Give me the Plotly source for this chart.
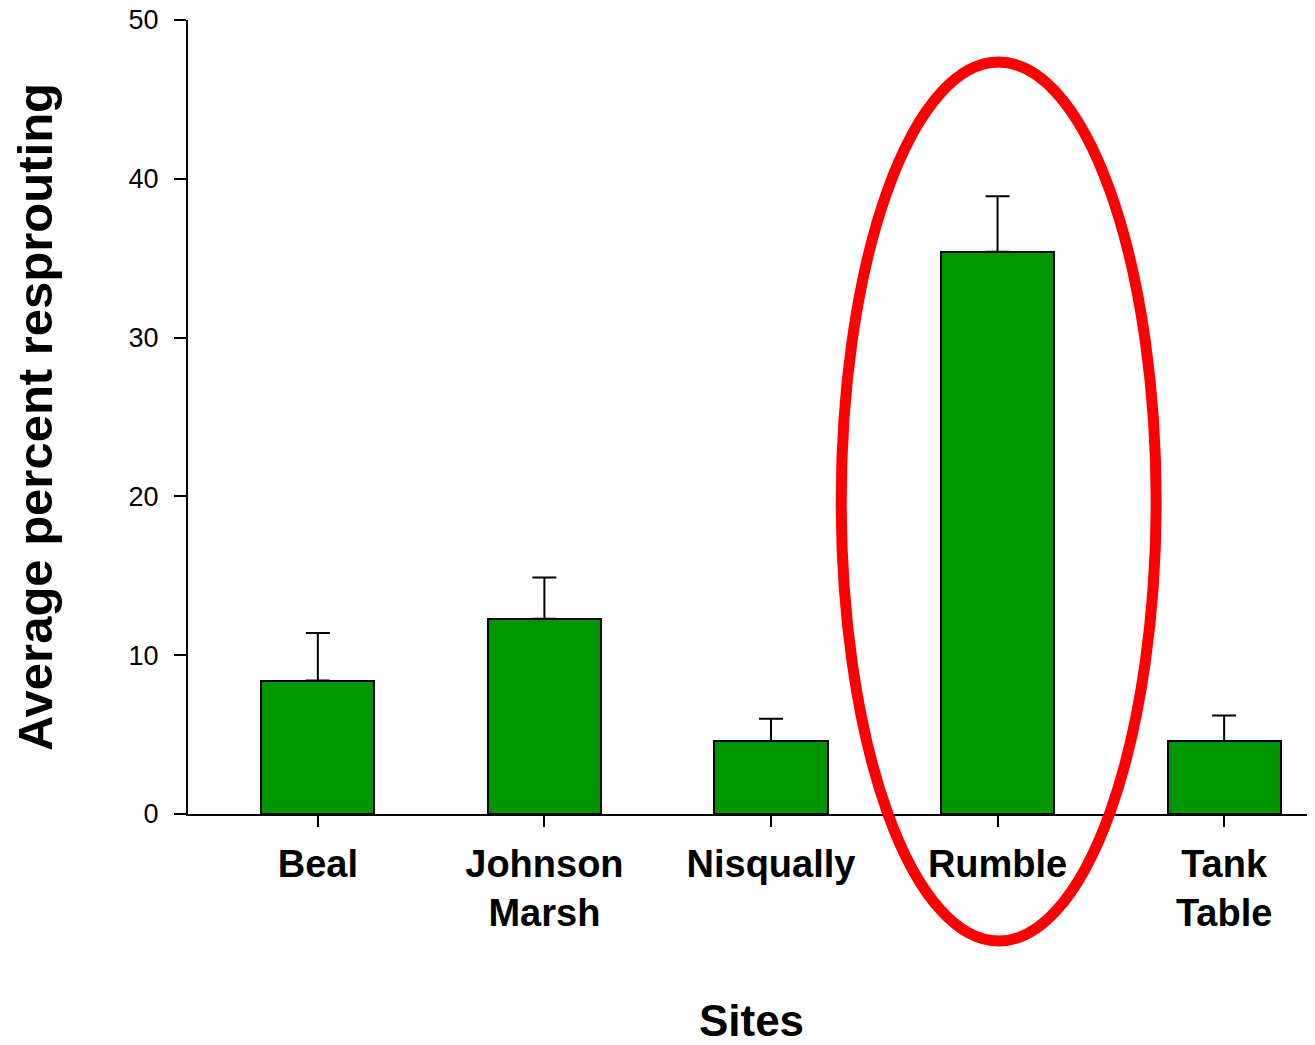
import plotly.graph_objects as go

sites = ["Beal", "Johnson<br>Marsh", "Nisqually", "Rumble", "Tank<br>Table"]
site_pos = [1, 2, 3, 4, 5]
mean_resprout = [8.4, 12.3, 4.6, 35.4, 4.6]
se_resprout = [3.0, 2.6, 1.4, 3.5, 1.6]

fig = go.Figure()
fig.add_trace(go.Bar(
    x=site_pos, y=mean_resprout, width=0.5,
    marker=dict(color="#009600", line=dict(color="black", width=2)),
    error_y=dict(type="data", array=se_resprout, arrayminus=[0] * len(se_resprout),
                 symmetric=False, color="black", thickness=2, width=12),
    showlegend=False))

# red ellipse highlighting Rumble
fig.add_shape(type="circle", xref="x", yref="paper",
              x0=3.31, x1=4.70, y0=-0.160, y1=0.947,
              line=dict(color="#ff0000", width=11), layer="above")

fig.update_layout(
    width=1307, height=1037,
    autosize=False,
    margin=dict(l=180, r=0, t=12, b=231, pad=0),
    plot_bgcolor="white", paper_bgcolor="white",
    font=dict(family="Liberation Sans, Arial", color="black"),
    bargap=0,
    xaxis=dict(range=[0.427, 5.401], tickvals=site_pos, ticktext=sites,
               tickfont=dict(size=38, weight="bold"), ticklabelstandoff=4,
               ticks="outside", ticklen=11, tickwidth=2, tickcolor="black",
               showline=True, linecolor="black", linewidth=2,
               showgrid=False, zeroline=False, automargin=False,
               title=dict(text="Sites", font=dict(size=44, weight="bold"), standoff=74)),
    yaxis=dict(range=[0, 50], tickvals=[0, 10, 20, 30, 40, 50],
               tickfont=dict(size=27), ticklabelstandoff=10, ticklabeloverflow="allow",
               ticks="outside", ticklen=12, tickwidth=2, tickcolor="black",
               showline=True, linecolor="black", linewidth=2,
               showgrid=False, zeroline=False, automargin=False,
               title=dict(text="Average percent resprouting", font=dict(size=49, weight="bold"), standoff=64)))

fig.write_html("out.html")
